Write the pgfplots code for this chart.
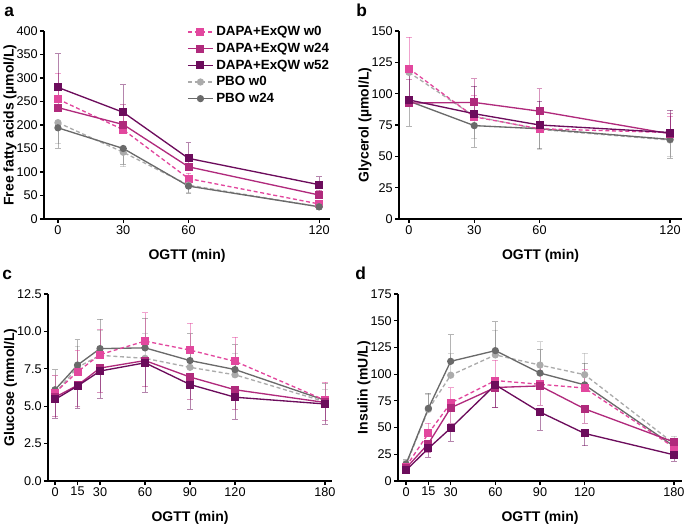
\documentclass[border=0pt]{standalone}
\usepackage{pgfplots}
\pgfplotsset{compat=1.18}
\usepackage{fontspec}
\setmainfont{Liberation Sans}

\definecolor{cwzero}{HTML}{E2479E}
\definecolor{cwtwf}{HTML}{B02A7C}
\definecolor{cwfft}{HTML}{6C0C5C}
\definecolor{cpzero}{HTML}{ABABAB}
\definecolor{cptwf}{HTML}{6A6A6A}

\pgfplotsset{
  panel/.style={
    scale only axis, enlargelimits=false, clip=false,
    axis lines=left, axis line style={line width=0.9pt, -},
    tick style={line width=0.9pt, black}, tick align=outside,
    major tick length=3pt, xtick pos=bottom, ytick pos=left,
    ymin=0,
    tick label style={font=\fontsize{9.5}{10}\selectfont, inner sep=1.5pt},
    /pgf/number format/assume math mode=true,
    label style={font=\bfseries\fontsize{10.5}{12}\selectfont},
    xlabel={OGTT (min)},
    xlabel style={yshift=-6pt},
    ylabel shift=-5pt,
  },
  up/.style={/pgfplots/error bars/y dir=plus, /pgfplots/error bars/y explicit,
    /pgfplots/error bars/error bar style={solid, line width=0.6pt, draw opacity=0.5},
    /pgfplots/error bars/error mark options={solid, rotate=90, mark size=2.2pt, line width=0.6pt, draw opacity=0.5}},
  dn/.style={/pgfplots/error bars/y dir=minus, /pgfplots/error bars/y explicit,
    /pgfplots/error bars/error bar style={solid, line width=0.6pt, draw opacity=0.5},
    /pgfplots/error bars/error mark options={solid, rotate=90, mark size=2.2pt, line width=0.6pt, draw opacity=0.5}},
  sA/.style={cwzero, line width=1pt, dash pattern=on 3pt off 2pt, mark=square*, mark size=2.5pt, mark options={solid}},
  sB/.style={cwtwf, line width=1pt, mark=square*, mark size=2.5pt},
  sC/.style={cwfft, line width=1pt, mark=square*, mark size=2.5pt},
  sD/.style={cpzero, line width=1pt, dash pattern=on 3pt off 2pt, mark=*, mark size=2.2pt, mark options={solid}},
  sE/.style={cptwf, line width=1pt, mark=*, mark size=2.2pt},
}

\begin{document}
\begin{tikzpicture}
\path[use as bounding box] (0,0) rectangle (513.75pt,396.75pt);

% a: free fatty acids
\begin{axis}[panel, at={(33pt,232.5pt)}, anchor=south west,
  width=214.5pt, height=141pt,
  xmin=-6.4, xmax=125, ymax=400,
  xtick={0,30,60,120}, ytick={0,50,...,400},
  ylabel={Free fatty acids (µmol/L)},
  legend style={at={(axis description cs:0.5,1.04)}, anchor=north west,
    draw=none, fill=none, inner sep=0pt, row sep=0pt,
    font=\bfseries\fontsize{10}{11}\selectfont, cells={anchor=west}},
  legend image code/.code={\draw[mark repeat=2,mark phase=2] plot coordinates {(0cm,0cm) (0.33cm,0cm) (0.66cm,0cm)};},
]
\addplot[sA, up] coordinates {(0,255) +- (0,55) (30,190) +- (0,40) (60,86) +- (0,12) (120,32) +- (0,8)};
\addplot[sB, up] coordinates {(0,237) +- (0,49) (30,201) +- (0,42) (60,111) +- (0,20) (120,51) +- (0,10)};
\addplot[sC, up] coordinates {(0,280) +- (0,72) (30,227) +- (0,59) (60,129) +- (0,33) (120,73) +- (0,17)};
\addplot[sD, dn] coordinates {(0,205) +- (0,45) (30,142) +- (0,31) (60,72) +- (0,15) (120,26) +- (0,5)};
\addplot[sE, dn] coordinates {(0,194) +- (0,43) (30,150) +- (0,34) (60,70) +- (0,15) (120,26) +- (0,5)};
\legend{DAPA+ExQW w0, DAPA+ExQW w24, DAPA+ExQW w52, PBO w0, PBO w24}
\end{axis}

% b: glycerol
\begin{axis}[panel, at={(299.25pt,232.5pt)}, anchor=south west,
  width=212.25pt, height=141pt,
  xmin=-4.6, xmax=125.5, ymax=150,
  xtick={0,30,60,120}, ytick={0,25,...,150},
  ylabel={Glycerol (µmol/L)},
]
\addplot[sD, dn] coordinates {(0,117) +- (0,20) (30,82) +- (0,18) (60,71.5) +- (0,16) (120,63) +- (0,13)};
\addplot[sE, dn] coordinates {(0,94) +- (0,20) (30,74.5) +- (0,17) (60,72) +- (0,16) (120,63.5) +- (0,15)};
\addplot[sA, up] coordinates {(0,120) +- (0,25) (30,81.5) +- (0,17) (60,72) +- (0,16) (120,69) +- (0,13)};
\addplot[sB, up] coordinates {(0,92.5) +- (0,19) (30,93) +- (0,19) (60,86) +- (0,18) (120,68) +- (0,16)};
\addplot[sC, up] coordinates {(0,95) +- (0,24) (30,84) +- (0,22) (60,75) +- (0,19) (120,69) +- (0,18)};
\end{axis}

% c: glucose
\begin{axis}[panel, at={(36pt,36pt)}, anchor=south west,
  width=213pt, height=140.25pt,
  xmin=-4.7, xmax=184.7, ymax=12.5,
  xtick={0,15,30,60,90,120,180}, ytick={0,2.5,...,12.5},
  yticklabel style={/pgf/number format/.cd, fixed, fixed zerofill, precision=1},
  ylabel={Glucose (mmol/L)},
]
\addplot[sD, up] coordinates {(0,5.85) +- (0,1.2) (15,7.6) +- (0,1.4) (30,8.4) +- (0,1.7) (60,8.2) +- (0,1.65) (90,7.6) +- (0,1.4) (120,7.1) +- (0,1.45) (180,5.3) +- (0,0.8)};
\addplot[sE, up] coordinates {(0,6.1) +- (0,1.35) (15,7.75) +- (0,1.7) (30,8.85) +- (0,1.95) (60,8.9) +- (0,2.0) (90,8.05) +- (0,1.8) (120,7.45) +- (0,1.65) (180,5.4) +- (0,1.1)};
\addplot[sA, up] coordinates {(0,5.9) +- (0,1.15) (15,7.3) +- (0,1.45) (30,8.45) +- (0,1.7) (60,9.35) +- (0,1.9) (90,8.75) +- (0,1.8) (120,8.0) +- (0,1.6) (180,5.4) +- (0,1.2)};
\addplot[sB, dn] coordinates {(0,5.6) +- (0,1.3) (15,6.4) +- (0,1.4) (30,7.55) +- (0,1.6) (60,8.05) +- (0,1.75) (90,6.95) +- (0,1.5) (120,6.1) +- (0,1.3) (180,5.25) +- (0,1.2)};
\addplot[sC, dn] coordinates {(0,5.45) +- (0,1.25) (15,6.35) +- (0,1.5) (30,7.35) +- (0,1.8) (60,7.9) +- (0,1.95) (90,6.45) +- (0,1.65) (120,5.6) +- (0,1.45) (180,5.15) +- (0,1.35)};
\end{axis}

% d: insulin
\begin{axis}[panel, at={(298.5pt,36pt)}, anchor=south west,
  width=213pt, height=140.25pt,
  xmin=-5.4, xmax=185.4, ymax=175,
  xtick={0,15,30,60,90,120,180}, ytick={0,25,...,175},
  ylabel={Insulin (mU/L)},
]
\addplot[sD, up] coordinates {(0,15) +- (0,4) (15,67) +- (0,14) (30,99) +- (0,20) (60,118) +- (0,23) (90,108.5) +- (0,22) (120,99.5) +- (0,20) (180,35) +- (0,7)};
\addplot[sE, up] coordinates {(0,16) +- (0,4) (15,68) +- (0,14) (30,112) +- (0,25) (60,122) +- (0,27) (90,101) +- (0,22) (120,90) +- (0,20) (180,32.5) +- (0,7)};
\addplot[sA, up] coordinates {(0,13.5) +- (0,4) (15,44.5) +- (0,9.5) (30,73) +- (0,14.5) (60,94) +- (0,19) (90,90.5) +- (0,19) (120,87) +- (0,17) (180,31.5) +- (0,5)};
\addplot[sB, dn] coordinates {(0,12) +- (0,3) (15,35) +- (0,8) (30,68.5) +- (0,14.5) (60,87.5) +- (0,19) (90,89) +- (0,18) (120,67.5) +- (0,13.5) (180,36.5) +- (0,6)};
\addplot[sC, dn] coordinates {(0,10) +- (0,2.5) (15,30.5) +- (0,8) (30,49.5) +- (0,12.5) (60,90) +- (0,21) (90,64.5) +- (0,17) (120,44.5) +- (0,11.5) (180,24.5) +- (0,6)};
\end{axis}

\node[anchor=base west, inner sep=0, font=\bfseries\fontsize{13}{14}\selectfont] at (3pt,384pt) {a};
\node[anchor=base west, inner sep=0, font=\bfseries\fontsize{13}{14}\selectfont] at (267pt,384pt) {b};
\node[anchor=base west, inner sep=0, font=\bfseries\fontsize{13}{14}\selectfont] at (1.5pt,186.75pt) {c};
\node[anchor=base west, inner sep=0, font=\bfseries\fontsize{13}{14}\selectfont] at (266.25pt,187.5pt) {d};
\end{tikzpicture}
\end{document}
